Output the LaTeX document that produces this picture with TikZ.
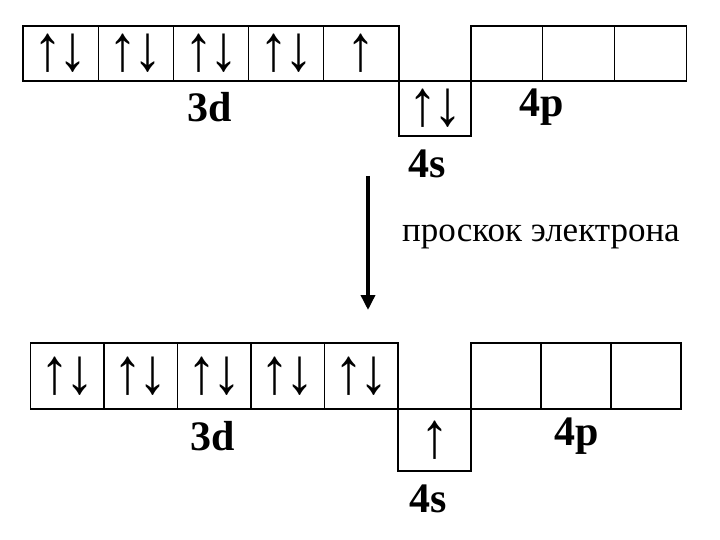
\documentclass[tikz,border=0pt]{standalone}
\usepackage{fontspec}
\setmainfont{Liberation Serif}
\usetikzlibrary{arrows.meta}
\newcommand{\spinpair}{\scalebox{1}[1.12]{↑\kern-4pt↓}}
\newcommand{\spinup}{\scalebox{1}[1.12]{↑}}
\tikzset{
	orbital/.style={draw, line width=1.1pt, inner sep=0pt, font=\fontsize{58}{58}\selectfont},
	sublevel/.style={font=\fontsize{42}{42}\selectfont\bfseries},
}
\begin{document}
\begin{tikzpicture}[x=1pt, y=-1pt]
	\useasboundingbox (0,0) rectangle (720,540);
	% before: 3d^9 4s^2
	\foreach \i/\e in {0/\spinpair,1/\spinpair,2/\spinpair,3/\spinpair,4/\spinup}
		\node[orbital, minimum width=75.2pt, minimum height=55pt] (da\i) at (60.6+75.2*\i,53.5) {\e};
	\node[orbital, minimum width=72pt, minimum height=55pt] (sa) at (435,108.5) {\spinpair};
	\foreach \i in {0,1,2}
		\node[orbital, minimum width=71.7pt, minimum height=55pt] (pa\i) at (506.8+71.7*\i,53.5) {};
	\node[sublevel] (da) at (210,107) {3d};
	\node[sublevel] (pa) at (542,107) {4p};
	\node[sublevel] (sal) at (427,164) {4s};
	% the jump of one electron
	\coordinate (jumptop) at (368,176);
	\coordinate (jumpend) at (368,310);
	\draw[line width=3.5pt, -{Triangle[length=15pt, width=14pt]}] (jumptop) -- (jumpend);
	\node[font=\fontsize{35}{35}\selectfont] (jump) at (541,237) {проскок электрона};
	% after: 3d^10 4s^1
	\foreach \i/\e in {0/\spinpair,1/\spinpair,2/\spinpair,3/\spinpair,4/\spinpair}
		\node[orbital, minimum width=73.5pt, minimum height=66pt] (db\i) at (67.25+73.5*\i,376) {\e};
	\node[orbital, minimum width=73pt, minimum height=62pt] (sb) at (434.5,440) {\spinup};
	\foreach \i in {0,1,2}
		\node[orbital, minimum width=70pt, minimum height=66pt] (pb\i) at (506+70*\i,376) {};
	\node[sublevel] (db) at (213,436) {3d};
	\node[sublevel] (pb) at (577,436) {4p};
	\node[sublevel] (sbl) at (428,499) {4s};
\end{tikzpicture}
\end{document}
